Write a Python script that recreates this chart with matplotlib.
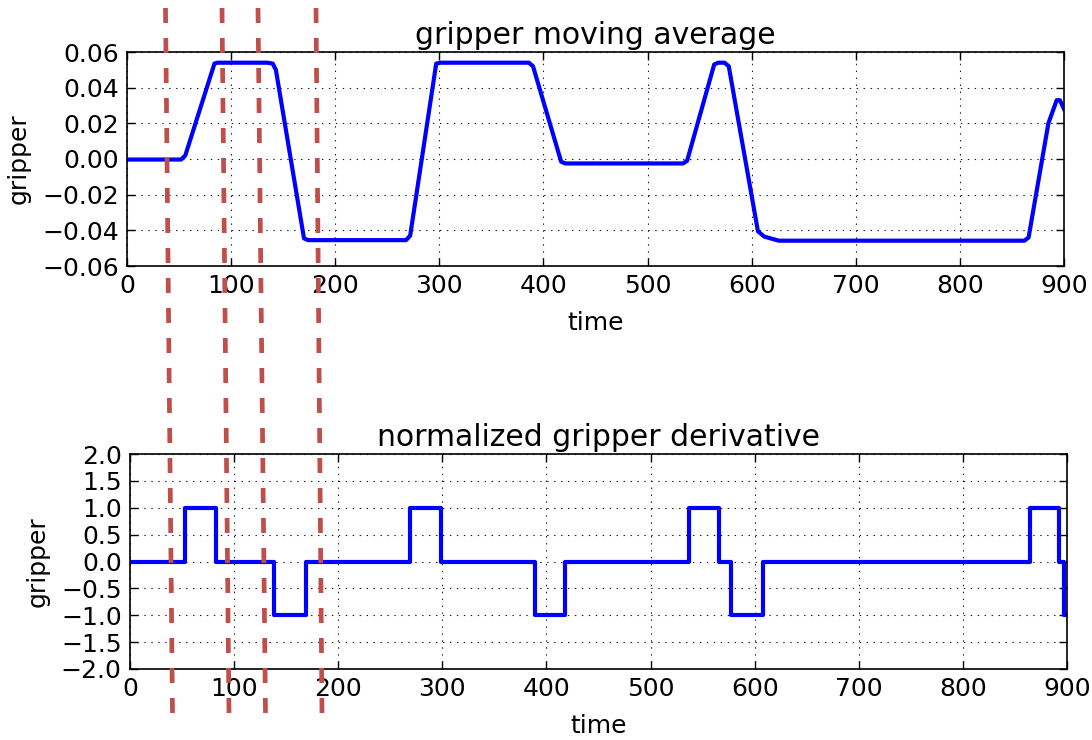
import matplotlib
matplotlib.use("Agg")
import matplotlib.pyplot as plt
from matplotlib.lines import Line2D
import numpy as np

# ---- data ----
avg_time = [0, 52, 56, 84, 87, 135, 140, 143, 170, 174, 268, 272, 297, 301, 386, 390, 417, 421,
            534, 538, 564, 568, 574, 578, 606, 612, 626, 862, 866, 885, 893, 896, 900]
avg_value = [-0.0003, -0.0003, 0.002, 0.0535, 0.054, 0.054, 0.0535, 0.050, -0.0445, -0.0455,
             -0.0455, -0.043, 0.0535, 0.054, 0.054, 0.052, -0.0015, -0.0025,
             -0.0025, -0.001, 0.053, 0.054, 0.054, 0.052, -0.0405, -0.0435, -0.0458, -0.0458,
             -0.044, 0.020, 0.033, 0.033, 0.028]

deriv_time = [0, 53, 83, 138, 169, 269, 299, 389, 418, 537, 566, 577, 608, 864, 892, 897, 900]
deriv_value = [0, 1, 0, -1, 0, 1, 0, -1, 0, 1, 0, -1, 0, 1, 0, -1, -1]

x_ticks = [0, 100, 200, 300, 400, 500, 600, 700, 800, 900]
top_y_ticks = [-0.06, -0.04, -0.02, 0.00, 0.02, 0.04, 0.06]
bot_y_ticks = [-2.0, -1.5, -1.0, -0.5, 0.0, 0.5, 1.0, 1.5, 2.0]

# marker lines (figure pixel coords: top x, bottom x)
marker_top_x = [165.5, 222, 258, 316]
marker_bot_x = [172.5, 229, 265.5, 322]

W, H = 1092, 740
plt.rcParams['font.family'] = ['DejaVu Sans']
plt.rcParams['axes.unicode_minus'] = True
plt.rcParams['lines.scale_dashes'] = False
FS = 18
TFS = 21.5

fig = plt.figure(figsize=(W / 100, H / 100), dpi=100, facecolor='white')

def px_axes(l, r, t, b):
    return fig.add_axes([l / W, 1 - b / H, (r - l) / W, (b - t) / H])

def style(ax, yticks, yfmt):
    ax.set_xlim(0, 900)
    ax.set_xticks(x_ticks)
    ax.set_xticklabels([str(v) for v in x_ticks])
    ax.set_ylim(yticks[0], yticks[-1])
    ax.set_yticks(yticks)
    ax.set_yticklabels([(yfmt % v).replace('-', '\u2212') for v in yticks])
    ax.tick_params(direction='in', top=True, right=True, length=6, width=1,
                   labelsize=FS, pad=6, colors='black')
    ax.grid(True, color='black', linestyle=(0, (1, 4)), linewidth=0.8, alpha=0.9)
    for s in ax.spines.values():
        s.set_linewidth(1.2)
        s.set_color('black')
    ax.set_xlabel('time', fontsize=FS, labelpad=9)
    ax.set_ylabel('gripper', fontsize=FS, labelpad=8)

ax1 = px_axes(127, 1064, 52, 266)
ax1.plot(avg_time, avg_value, color='#0000ff', linewidth=3.0, solid_joinstyle='round')
style(ax1, top_y_ticks, '%.2f')
ax1.set_title('gripper moving average', fontsize=TFS, pad=6)

ax2 = px_axes(130, 1067, 454, 669)
ax2.plot(deriv_time, deriv_value, color='#0000ff', linewidth=3.0, drawstyle='steps-post')
style(ax2, bot_y_ticks, '%.1f')
ax2.set_title('normalized gripper derivative', fontsize=TFS, pad=6)

for xt, xb in zip(marker_top_x, marker_bot_x):
    ln = Line2D([xt / W, xb / W], [1 - 8 / H, 1 - 714 / H], transform=fig.transFigure,
                color='#bf4f4b', linewidth=3.4, linestyle=(0, (10.8, 10.8)),
                solid_capstyle='butt', dash_capstyle='butt', zorder=10)
    fig.add_artist(ln)

fig.savefig('out.png', dpi=100, facecolor='white')
